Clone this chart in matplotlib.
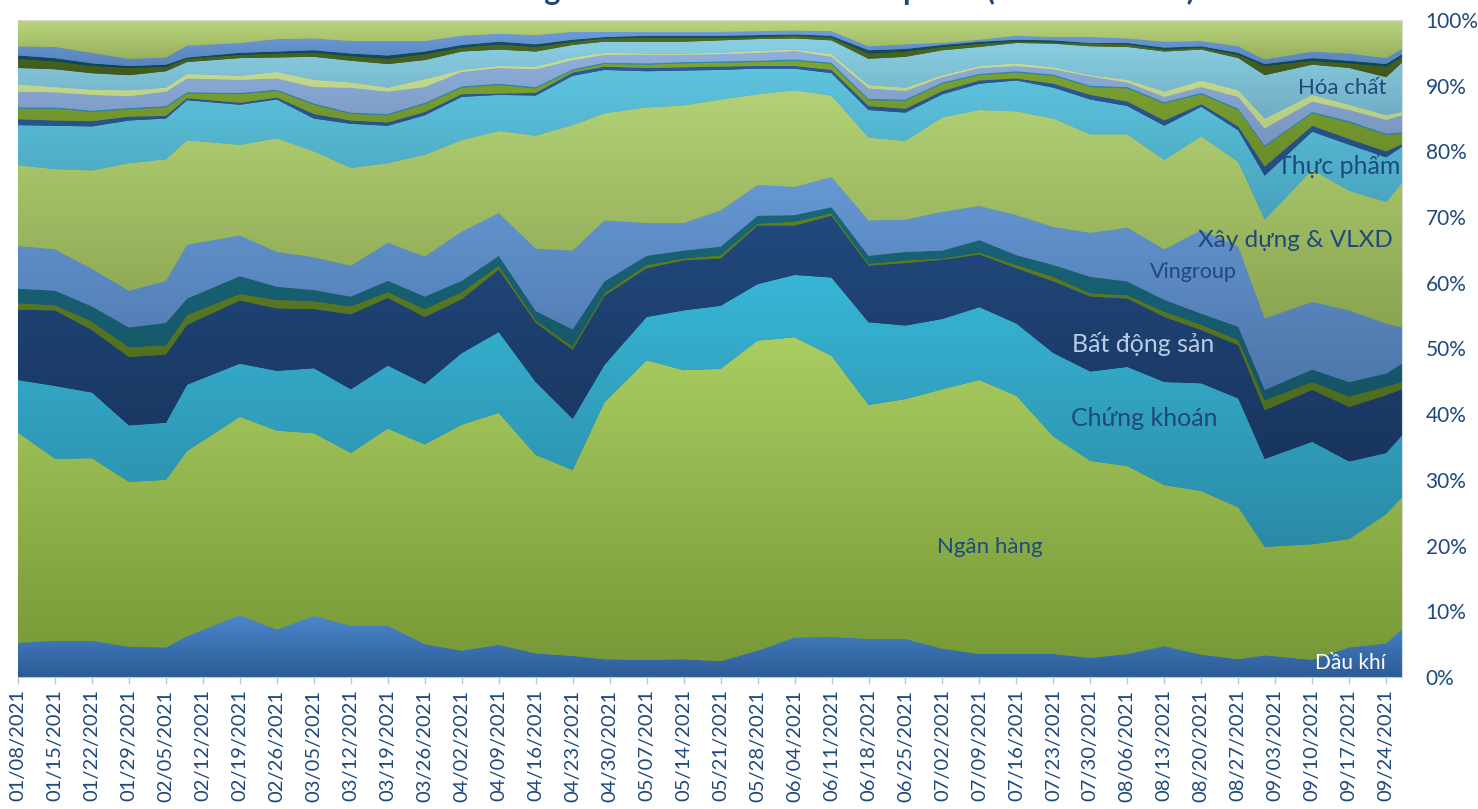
import numpy as np
import pandas as pd
import matplotlib
matplotlib.use('Agg')
import matplotlib.pyplot as plt
import matplotlib.dates as mdates
import matplotlib.ticker as mtick
from matplotlib.colors import LinearSegmentedColormap
from matplotlib.patches import PathPatch

plt.rcParams['font.family'] = ['Lato', 'Noto Sans', 'DejaVu Sans']

# Weekly sessions (holiday weeks use the last trading day)
dates = ['2021-01-08', '2021-01-15', '2021-01-22', '2021-01-29', '2021-02-05', '2021-02-09',
         '2021-02-19', '2021-02-26', '2021-03-05', '2021-03-12', '2021-03-19', '2021-03-26',
         '2021-04-02', '2021-04-09', '2021-04-16', '2021-04-23', '2021-04-29', '2021-05-07',
         '2021-05-14', '2021-05-21', '2021-05-28', '2021-06-04', '2021-06-11', '2021-06-18',
         '2021-06-25', '2021-07-02', '2021-07-09', '2021-07-16', '2021-07-23', '2021-07-30',
         '2021-08-06', '2021-08-13', '2021-08-20', '2021-08-27', '2021-09-01', '2021-09-10',
         '2021-09-17', '2021-09-24', '2021-09-27']

# Share of trading value by sector (%), bottom to top
dau_khi = [5.2, 5.5, 5.5, 4.6, 4.5, 6.2, 9.4, 7.2, 9.3, 7.8, 7.8, 5.0, 4.0, 4.9, 3.6, 3.2, 2.7, 2.6, 2.7, 2.4,
           4.0, 6.0, 6.1, 5.8, 5.8, 4.3, 3.5, 3.5, 3.5, 2.9, 3.5, 4.7, 3.4, 2.7, 3.3, 2.6, 4.5, 5.1, 7.3]
ngan_hang = [32.0, 27.7, 27.8, 25.1, 25.5, 28.2, 30.2, 30.3, 27.8, 26.3, 30.0, 30.4, 34.4, 35.3, 30.2, 28.3,
             39.1, 45.6, 44.0, 44.5, 47.2, 45.7, 42.8, 35.6, 36.5, 39.5, 41.7, 39.3, 33.1, 30.0, 28.6, 24.5,
             24.9, 23.1, 16.5, 17.6, 16.5, 19.7, 20.1]
chung_khoan = [8.0, 11.1, 10.0, 8.6, 8.7, 10.1, 8.1, 9.1, 9.9, 9.7, 9.6, 9.2, 10.9, 12.3, 11.1, 7.8, 5.7, 6.6,
               9.1, 9.6, 8.6, 9.5, 11.9, 12.6, 11.2, 10.7, 11.1, 11.0, 12.7, 13.6, 15.1, 15.7, 16.4, 16.6,
               13.4, 15.6, 11.8, 9.3, 9.4]
bat_dong_san = [10.7, 11.5, 9.5, 10.4, 10.4, 9.1, 9.6, 9.5, 9.0, 11.4, 10.3, 10.2, 8.2, 9.5, 9.0, 10.5, 10.5,
                7.4, 7.6, 7.2, 8.9, 7.5, 9.4, 8.6, 9.5, 9.0, 8.0, 8.4, 10.9, 11.4, 10.4, 9.9, 8.1, 8.1, 7.4,
                7.9, 8.3, 8.8, 7.0]
nganh_05 = [1.0, 0.8, 1.3, 1.5, 1.4, 1.5, 1.0, 1.3, 1.2, 1.2, 0.9, 1.2, 1.1, 0.6, 0.4, 0.5, 0.4, 0.5, 0.3, 0.5,
            0.3, 0.6, 0.4, 0.3, 0.4, 0.2, 0.3, 0.5, 0.7, 0.5, 0.5, 0.8, 0.8, 0.8, 1.5, 1.2, 1.6, 1.3, 1.1]
nganh_06 = [2.2, 2.2, 2.3, 3.0, 3.4, 2.5, 2.7, 2.0, 1.7, 1.5, 1.7, 1.9, 1.7, 1.5, 1.4, 2.6, 1.8, 1.4, 1.2, 1.3,
            1.2, 1.0, 0.9, 1.2, 1.3, 1.2, 1.9, 1.5, 1.8, 2.5, 2.1, 1.8, 1.7, 2.0, 1.6, 1.9, 2.2, 2.0, 2.8]
vingroup = [6.5, 6.3, 5.7, 5.6, 6.4, 8.2, 6.2, 5.3, 5.0, 4.7, 5.8, 6.1, 7.5, 6.5, 9.5, 12.0, 9.3, 5.0, 4.2,
            5.5, 4.7, 4.3, 4.6, 5.4, 4.9, 5.9, 5.2, 6.1, 5.8, 6.7, 8.2, 7.7, 12.7, 12.2, 10.9, 10.3, 10.9,
            7.6, 5.5]
xay_dung = [12.3, 12.2, 15.0, 19.4, 18.5, 15.9, 13.8, 17.3, 16.1, 14.9, 12.1, 15.5, 13.9, 12.5, 17.2, 19.1,
            16.3, 17.6, 17.9, 16.9, 13.8, 14.7, 12.4, 12.6, 12.0, 14.4, 14.6, 15.8, 16.5, 15.0, 14.2, 13.6,
            14.3, 12.9, 15.0, 20.1, 18.2, 18.5, 22.0]
nganh_09 = [6.1, 6.6, 6.7, 6.5, 6.2, 6.1, 6.1, 5.9, 5.0, 6.7, 5.7, 6.0, 6.6, 5.5, 6.1, 7.5, 6.6, 5.5, 5.3, 4.5,
            3.9, 3.3, 3.4, 4.2, 4.3, 3.5, 4.0, 4.7, 4.7, 5.3, 4.3, 5.2, 4.5, 4.8, 6.7, 5.8, 7.0, 6.8, 5.5]
thuc_pham = [0.9, 0.8, 0.8, 0.6, 0.4, 0.3, 0.3, 0.3, 0.7, 0.5, 0.5, 0.5, 0.4, 0.2, 0.4, 0.5, 0.5, 0.5, 0.5,
             0.5, 0.4, 0.4, 0.5, 0.6, 0.6, 0.5, 0.5, 0.3, 0.6, 0.7, 0.7, 0.8, 0.4, 0.6, 1.4, 0.9, 0.9, 0.9,
             0.4]
nganh_11 = [1.6, 1.8, 1.4, 1.1, 1.3, 0.7, 1.3, 1.0, 1.4, 1.0, 1.1, 1.2, 1.0, 1.3, 0.7, 0.3, 0.4, 0.5, 0.6, 0.6,
            0.6, 0.8, 0.9, 0.9, 1.2, 1.1, 0.8, 0.9, 1.2, 1.2, 2.0, 2.6, 1.5, 2.5, 3.0, 1.9, 2.5, 2.5, 1.6]
nganh_12 = [0.2, 0.2, 0.2, 0.2, 0.2, 0.2, 0.2, 0.2, 0.2, 0.2, 0.2, 0.2, 0.2, 0.2, 0.2, 0.2, 0.2, 0.2, 0.2, 0.2,
            0.2, 0.2, 0.2, 0.2, 0.2, 0.2, 0.2, 0.2, 0.2, 0.2, 0.2, 0.2, 0.2, 0.2, 0.2, 0.2, 0.2, 0.2, 0.2]
nganh_13 = [2.4, 2.3, 2.4, 1.8, 2.2, 2.1, 2.0, 1.7, 2.5, 3.8, 3.4, 2.4, 2.2, 2.4, 2.7, 1.4, 1.2, 1.3, 1.1, 1.1,
            1.2, 1.3, 0.9, 1.6, 1.3, 0.8, 0.9, 0.8, 0.8, 1.4, 0.7, 0.8, 0.9, 1.8, 2.6, 1.6, 1.7, 2.1, 2.6]
nganh_14 = [1.1, 0.8, 0.8, 0.9, 0.6, 0.7, 0.6, 1.0, 1.1, 0.8, 0.6, 1.2, 0.3, 0.3, 0.4, 0.4, 0.3, 0.2, 0.2, 0.2,
            0.3, 0.2, 0.4, 0.5, 0.5, 0.3, 0.3, 0.4, 0.3, 0.2, 0.4, 0.8, 1.0, 1.0, 1.5, 1.0, 0.8, 0.7, 0.5]
hoa_chat = [2.5, 2.7, 2.5, 2.3, 2.5, 1.8, 2.7, 2.2, 3.5, 3.3, 3.6, 2.9, 2.8, 2.5, 2.3, 1.9, 1.7, 1.8, 1.8, 1.9,
            1.8, 1.7, 2.1, 4.0, 4.7, 3.8, 2.9, 3.1, 3.6, 4.4, 5.0, 6.1, 4.7, 4.9, 6.6, 4.6, 5.6, 5.8, 7.5]
nganh_16 = [1.4, 1.2, 1.1, 1.1, 0.7, 0.5, 0.5, 0.6, 0.6, 0.7, 0.8, 0.9, 0.6, 0.8, 0.7, 0.5, 0.5, 0.6, 0.6, 0.4,
            0.3, 0.4, 0.4, 0.8, 0.8, 0.5, 0.5, 0.2, 0.2, 0.4, 0.4, 0.3, 0.3, 0.5, 1.4, 0.6, 0.7, 1.6, 0.9]
nganh_17 = [0.5, 0.5, 0.4, 0.3, 0.3, 0.2, 0.3, 0.3, 0.4, 0.4, 0.5, 0.4, 0.4, 0.4, 0.4, 0.3, 0.2, 0.3, 0.3, 0.3,
            0.3, 0.2, 0.3, 0.5, 0.4, 0.3, 0.3, 0.3, 0.3, 0.1, 0.2, 0.3, 0.2, 0.3, 0.3, 0.4, 0.4, 0.4, 0.4]
nganh_18 = [1.4, 1.7, 1.6, 1.1, 1.1, 1.8, 1.5, 1.9, 1.8, 1.9, 2.2, 1.6, 1.4, 1.2, 1.4, 1.2, 0.8, 0.6, 0.6, 0.6,
            0.6, 0.6, 0.7, 0.6, 0.7, 0.3, 0.3, 0.6, 0.5, 0.9, 0.7, 0.9, 0.8, 1.0, 0.7, 1.0, 1.1, 0.9, 0.8]
nganh_19 = [4.0, 4.1, 5.0, 5.9, 5.7, 3.9, 3.5, 2.9, 2.8, 3.2, 3.2, 3.2, 2.4, 2.1, 2.3, 1.8, 1.8, 1.8, 1.8, 1.8,
            1.7, 1.6, 1.7, 4.0, 3.7, 3.5, 3.0, 2.4, 2.6, 2.6, 2.8, 3.3, 3.2, 4.0, 6.0, 4.8, 5.1, 5.8, 4.4]

series = [dau_khi, ngan_hang, chung_khoan, bat_dong_san, nganh_05, nganh_06, vingroup, xay_dung,
          nganh_09, thuc_pham, nganh_11, nganh_12, nganh_13, nganh_14, hoa_chat, nganh_16, nganh_17,
          nganh_18, nganh_19]

# (top colour, bottom colour) for the gradient of each band
fills = [('#4a88cc', '#2c5b96'), ('#aacd62', '#779937'), ('#38b6d6', '#2a8aa6'), ('#21497e', '#19355e'),
         ('#5e7f26', '#4f6b1f'), ('#1a6679', '#155466'), ('#6598d4', '#4e76aa'), ('#b3d276', '#8aa44f'),
         ('#5fc4de', '#46a2bc'), ('#2b5a96', '#244c80'), ('#7ea433', '#6a8c2a'), ('#2f8ea6', '#2a7f95'),
         ('#8fb0dd', '#7894bd'), ('#c9de94', '#b6cc80'), ('#8ad0e4', '#70acc2'), ('#4d6a22', '#41591c'),
         ('#135366', '#0f4656'), ('#6d9cd9', '#5983ba'), ('#bcd67e', '#98b05e')]

vals = np.array(series, dtype=float)
vals = vals / vals.sum(axis=0) * 100

x = mdates.date2num(pd.to_datetime(dates))

fig = plt.figure(figsize=(14.78, 8.09), dpi=100)
ax = fig.add_axes([0.0122, 0.1632, 0.9364, 0.8121])

grad = np.linspace(0, 1, 256).reshape(-1, 1)
base = np.zeros(len(x))
for i, (v, (c_top, c_bot)) in enumerate(zip(vals, fills)):
    top = base + v
    # solid underlay so neighbouring bands don't leave white seams
    ax.fill_between(x, base, top, color=c_bot, linewidth=0.6, edgecolor=c_bot, zorder=1)
    poly = ax.fill_between(x, base, top, facecolor='none', edgecolor='none', linewidth=0, zorder=2)
    patch = PathPatch(poly.get_paths()[0], transform=ax.transData, facecolor='none', edgecolor='none')
    ax.add_patch(patch)
    cmap = LinearSegmentedColormap.from_list('band%d' % i, [c_bot, c_top])
    im = ax.imshow(grad, cmap=cmap, aspect='auto', origin='lower', interpolation='bilinear',
                   extent=[x[0], x[-1], base.min(), top.max()], zorder=2)
    im.set_clip_path(patch)
    base = top

ax.set_xlim(x[0], x[-1])
ax.set_ylim(0, 100)

# Weekly ticks on Fridays
ticks = pd.date_range('2021-01-08', '2021-09-24', freq='7D')
ax.set_xticks(mdates.date2num(ticks))
ax.set_xticklabels([t.strftime('%m/%d/%Y') for t in ticks], rotation=90, fontsize=14.5, color='#1F497D')
ax.tick_params(axis='x', length=5, width=1, color='#B9C7D9', pad=4)

ax.yaxis.tick_right()
ax.set_yticks(np.arange(0, 101, 10))
ax.yaxis.set_major_formatter(mtick.PercentFormatter(decimals=0))
ax.tick_params(axis='y', length=0, pad=17, labelsize=15, labelcolor='#1F497D')

for s in ['top', 'right', 'left']:
    ax.spines[s].set_color('#D9D9D9')
ax.spines['left'].set_visible(False)
ax.spines['bottom'].set_color('#B9C7D9')

# Title runs past the top edge of the canvas; only the descenders remain
fig.text(1195 / 1478, 1 + 0.5 / 809, 'Diễn biến dòng tiền đổ vào các nhóm cổ phiếu (tính theo tuần)',
         ha='right', va='baseline', fontsize=22, fontweight='bold', color='#1F497D')

# Sector names drawn on the bands
labels = [('Dầu khí', 0.963, 0.022, 'white', 15),
          ('Ngân hàng', 0.702, 0.198, '#1F497D', 16),
          ('Chứng khoán', 0.814, 0.393, '#1F497D', 18),
          ('Bất động sản', 0.813, 0.507, '#B8CCE4', 18),
          ('Vingroup', 0.849, 0.616, '#1F497D', 15.5),
          ('Xây dựng & VLXD', 0.923, 0.665, '#1F497D', 17.5),
          ('Thực phẩm', 0.954, 0.779, '#1F497D', 18),
          ('Hóa chất', 0.957, 0.896, '#1F497D', 16)]
for txt, lx, ly, col, fs in labels:
    ax.text(lx, ly, txt, transform=ax.transAxes, ha='center', va='center', color=col, fontsize=fs, zorder=5)

plt.savefig('out.png', dpi=100)
